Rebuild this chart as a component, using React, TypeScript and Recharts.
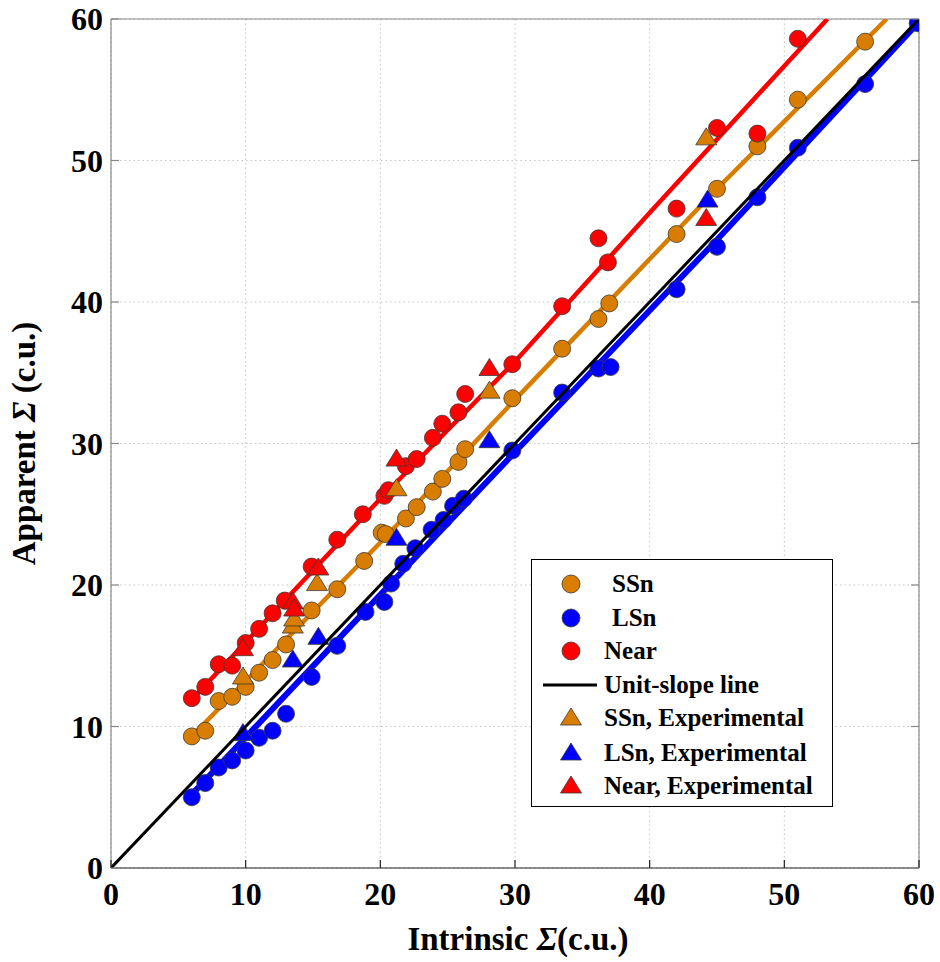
import React from 'react';
import { ScatterChart, Scatter, XAxis, YAxis, CartesianGrid, Legend, Label } from 'recharts';

const SERIF = '"Liberation Serif", "Times New Roman", Times, serif';
const ORANGE = '#D97D00';
const BLUE = '#0000FF';
const RED = '#FF0000';
const EDGE = '#3a3a3a';

const TICKS = [0, 10, 20, 30, 40, 50, 60];

// simulated points: [intrinsic, apparent]
const ssnPts = [
  [6, 9.3], [7, 9.7], [8, 11.8], [9, 12.1], [10, 12.8], [11, 13.8], [12, 14.7], [13, 15.8],
  [14.9, 18.2], [16.8, 19.7], [18.8, 21.7], [20.1, 23.7], [20.4, 23.6], [21.9, 24.7], [22.7, 25.5],
  [23.9, 26.6], [24.6, 27.5], [25.8, 28.7], [26.3, 29.6], [29.8, 33.2], [33.5, 36.7], [36.2, 38.8],
  [37.0, 39.9], [42, 44.8], [45, 48.0], [48, 51.0], [51, 54.3], [56, 58.4],
];
const lsnPts = [
  [6, 5.0], [7, 6.0], [8, 7.1], [9, 7.6], [10, 8.3], [11, 9.2], [12, 9.7], [13, 10.9],
  [14.9, 13.5], [16.8, 15.7], [18.9, 18.1], [20.3, 18.8], [20.8, 20.1], [21.7, 21.5], [22.6, 22.6],
  [23.8, 23.9], [24.7, 24.6], [25.4, 25.6], [26.2, 26.1], [29.8, 29.5], [33.5, 33.6], [36.2, 35.3],
  [37.1, 35.4], [42, 40.9], [45, 43.9], [48, 47.4], [51, 50.9], [56, 55.4], [59.9, 59.7],
];
const nearPts = [
  [6, 12.0], [7, 12.8], [8, 14.4], [9, 14.3], [10, 15.9], [11, 16.9], [12, 18.0], [12.9, 18.9],
  [14.9, 21.3], [16.8, 23.2], [18.7, 25.0], [20.3, 26.3], [20.6, 26.7], [21.9, 28.4], [22.7, 28.9],
  [23.9, 30.4], [24.6, 31.4], [25.8, 32.2], [26.3, 33.5], [29.8, 35.6], [33.5, 39.7], [36.2, 44.5],
  [36.9, 42.8], [42, 46.6], [45, 52.3], [48, 51.9], [51, 58.6],
];

// experimental points
const ssnExp = [[9.8, 13.5], [13.5, 17.1], [13.6, 17.6], [15.3, 20.1], [21.2, 26.8], [28.1, 33.7], [44.2, 51.6]];
const lsnExp = [[9.8, 9.5], [13.5, 14.7], [15.4, 16.3], [21.2, 23.3], [28.1, 30.2], [44.3, 47.2]];
const nearExp = [[9.8, 15.5], [13.5, 18.8], [13.6, 18.3], [15.4, 21.2], [21.2, 28.9], [28.1, 35.3], [44.2, 45.9]];

// fitted trend lines
const ssnFit = [[6, 9.3], [20, 23.0], [30, 33.1], [45, 48.0], [57.6, 60]];
const lsnFit = [[6, 5.2], [30, 29.4], [45, 44.4], [60, 59.8]];
const nearFit = [[6, 11.9], [20, 26.1], [30, 35.8], [40, 46.3], [53.2, 60]];
const unitSlope = [[0, 0], [60, 60]];

const toXY = (arr: number[][]) => arr.map(([x, y]) => ({ x, y }));

const circle = (fill: string) => (p: any) => (
  <circle cx={p.cx} cy={p.cy} r={8.5} fill={fill} stroke={EDGE} strokeWidth={0.8} />
);
const triangle = (fill: string) => (p: any) => (
  <polygon
    points={`${p.cx},${p.cy - 10} ${p.cx - 10.5},${p.cy + 7} ${p.cx + 10.5},${p.cy + 7}`}
    fill={fill}
    stroke={EDGE}
    strokeWidth={0.8}
  />
);
const noShape = () => <g />;

const tickText = { fontFamily: SERIF, fontWeight: 700, fontSize: 32, fill: '#000' };

const BottomTick = ({ x, y, payload }: any) => (
  <g>
    <line x1={x} x2={x} y1={y} y2={y - 8} stroke="#222" strokeWidth={1.2} />
    <text x={x} y={y + 37} textAnchor="middle" {...tickText}>{payload.value}</text>
  </g>
);
const LeftTick = ({ x, y, payload }: any) => (
  <g>
    <line x1={x} x2={x + 8} y1={y} y2={y} stroke="#888" strokeWidth={1.2} />
    <text x={x - 8} y={y + 11} textAnchor="end" {...tickText}>{payload.value}</text>
  </g>
);
const TopTick = ({ x, y }: any) => <line x1={x} x2={x} y1={y} y2={y + 8} stroke="#888" strokeWidth={1.2} />;
const RightTick = ({ x, y }: any) => <line x1={x} x2={x - 8} y1={y} y2={y} stroke="#888" strokeWidth={1.2} />;

const legendItems = [
  { label: 'SSn', kind: 'circle', color: ORANGE, top: 24, pad: 8 },
  { label: 'LSn', kind: 'circle', color: BLUE, top: 58, pad: 8 },
  { label: 'Near', kind: 'circle', color: RED, top: 91, pad: 0 },
  { label: 'Unit-slope line', kind: 'line', color: '#000', top: 125, pad: 0 },
  { label: 'SSn, Experimental', kind: 'tri', color: ORANGE, top: 158, pad: 0 },
  { label: 'LSn, Experimental', kind: 'tri', color: BLUE, top: 193, pad: 0 },
  { label: 'Near, Experimental', kind: 'tri', color: RED, top: 226, pad: 0 },
];

const LegendBox = () => (
  <div
    style={{
      position: 'relative',
      width: 302,
      height: 248,
      boxSizing: 'border-box',
      border: '1px solid #000',
      background: '#fff',
      fontFamily: SERIF,
      fontWeight: 700,
      fontSize: 25,
    }}
  >
    {legendItems.map((it) => (
      <div key={it.label} style={{ position: 'absolute', left: 0, top: it.top - 16, height: 32, display: 'flex', alignItems: 'center' }}>
        <svg width={72} height={32} style={{ display: 'block' }}>
          {it.kind === 'circle' && <circle cx={39} cy={16} r={9} fill={it.color} stroke={EDGE} strokeWidth={0.8} />}
          {it.kind === 'tri' && <polygon points="39,6 28.5,23 49.5,23" fill={it.color} stroke={EDGE} strokeWidth={0.8} />}
          {it.kind === 'line' && <line x1={11} x2={65} y1={16} y2={16} stroke="#000" strokeWidth={3} />}
        </svg>
        <span style={{ paddingLeft: it.pad, whiteSpace: 'nowrap', color: '#000' }}>{it.label}</span>
      </div>
    ))}
  </div>
);

export default function App() {
  return (
    <div style={{ position: 'absolute', left: 0, top: 0, background: '#fff' }}>
      <ScatterChart width={940} height={962} margin={{ top: 18, right: 20, left: 110, bottom: 93 }}>
        <CartesianGrid stroke="#c4c4c4" strokeDasharray="1.5 3" />
        <XAxis
          type="number"
          dataKey="x"
          domain={[0, 60]}
          ticks={TICKS}
          interval={0}
          height={1}
          tickSize={0}
          tickMargin={0}
          tickLine={false}
          tick={BottomTick}
          axisLine={{ stroke: '#222', strokeWidth: 1.2 }}
          allowDataOverflow
        >
          <Label
            content={(p: any) => {
              const vb = p.viewBox;
              return (
                <text x={vb.x + vb.width / 2 + 3} y={vb.y + 82} textAnchor="middle" fontFamily={SERIF} fontWeight={700} fontSize={33} fill="#000">
                  <tspan>Intrinsic </tspan>
                  <tspan fontStyle="italic">Σ</tspan>
                  <tspan>(c.u.)</tspan>
                </text>
              );
            }}
          />
        </XAxis>
        <YAxis
          type="number"
          dataKey="y"
          domain={[0, 60]}
          ticks={TICKS}
          interval={0}
          width={1}
          tickSize={0}
          tickMargin={0}
          tickLine={false}
          tick={LeftTick}
          axisLine={{ stroke: '#888', strokeWidth: 1.2 }}
          allowDataOverflow
        >
          <Label
            content={(p: any) => {
              const vb = p.viewBox;
              const cx = 35;
              const cy = vb.y + vb.height / 2;
              return (
                <text x={cx} y={cy} transform={`rotate(-90, ${cx}, ${cy})`} textAnchor="middle" fontFamily={SERIF} fontWeight={700} fontSize={33} fill="#000">
                  <tspan>Apparent </tspan>
                  <tspan fontStyle="italic">Σ</tspan>
                  <tspan> (c.u.)</tspan>
                </text>
              );
            }}
          />
        </YAxis>
        <XAxis
          xAxisId="top"
          orientation="top"
          type="number"
          domain={[0, 60]}
          ticks={TICKS}
          interval={0}
          height={1}
          tickSize={0}
          tickMargin={0}
          tickLine={false}
          tick={TopTick}
          axisLine={{ stroke: '#888', strokeWidth: 1.2 }}
          allowDataOverflow
        />
        <YAxis
          yAxisId="right"
          orientation="right"
          type="number"
          domain={[0, 60]}
          ticks={TICKS}
          interval={0}
          width={1}
          tickSize={0}
          tickMargin={0}
          tickLine={false}
          tick={RightTick}
          axisLine={{ stroke: '#888', strokeWidth: 1.2 }}
          allowDataOverflow
        />

        <Scatter data={toXY(lsnFit)} line={{ stroke: BLUE, strokeWidth: 6 }} shape={noShape} isAnimationActive={false} />
        <Scatter data={toXY(ssnFit)} line={{ stroke: ORANGE, strokeWidth: 4.5 }} shape={noShape} isAnimationActive={false} />
        <Scatter data={toXY(nearFit)} line={{ stroke: RED, strokeWidth: 4.5 }} shape={noShape} isAnimationActive={false} />

        <Scatter name="SSn" data={toXY(ssnPts)} shape={circle(ORANGE)} isAnimationActive={false} />
        <Scatter name="LSn" data={toXY(lsnPts)} shape={circle(BLUE)} isAnimationActive={false} />
        <Scatter name="Near" data={toXY(nearPts)} shape={circle(RED)} isAnimationActive={false} />

        <Scatter name="SSn, Experimental" data={toXY(ssnExp)} shape={triangle(ORANGE)} isAnimationActive={false} />
        <Scatter name="LSn, Experimental" data={toXY(lsnExp)} shape={triangle(BLUE)} isAnimationActive={false} />
        <Scatter name="Near, Experimental" data={toXY(nearExp)} shape={triangle(RED)} isAnimationActive={false} />

        <Scatter name="Unit-slope line" data={toXY(unitSlope)} line={{ stroke: '#000', strokeWidth: 3 }} shape={noShape} isAnimationActive={false} />

        <Legend
          layout="vertical"
          align="center"
          verticalAlign="middle"
          content={() => <LegendBox />}
          wrapperStyle={{ left: 531, top: 559, width: 302, height: 248 }}
        />
      </ScatterChart>
    </div>
  );
}
